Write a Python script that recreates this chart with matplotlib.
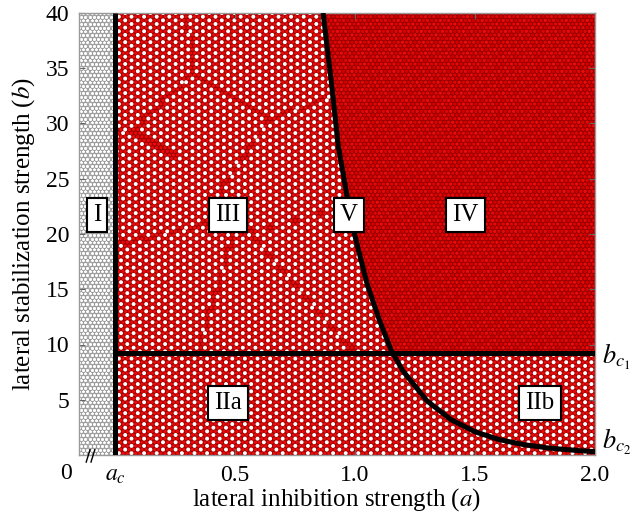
import numpy as np
import matplotlib
matplotlib.use("Agg")
import matplotlib.pyplot as plt
import matplotlib.transforms as mtransforms

# ---- data ----
a_c = 0.0            # critical inhibition (vertical line)
b_c1 = 9.2           # horizontal boundary
curve_a = [0.867, 0.90, 0.93, 0.97, 1.00, 1.05, 1.10, 1.15, 1.20, 1.30, 1.40, 1.50, 1.60, 1.70, 1.80, 1.90, 2.00]
curve_b = [40.0, 34.0, 28.0, 23.0, 19.8, 15.5, 12.3, 9.5, 7.6, 4.9, 3.2, 2.1, 1.4, 0.95, 0.65, 0.45, 0.30]
x_ticks = [0.0, 0.5, 1.0, 1.5, 2.0]
x_ticklabels = ['$a_c$', '0.5', '1.0', '1.5', '2.0']
y_ticks = [5, 10, 15, 20, 25, 30, 35, 40]
region_labels = ['I', 'III', 'V', 'IV', 'IIa', 'IIb']
region_a = [-0.075, 0.471, 0.975, 1.46, 0.471, 1.77]
region_b = [21.7, 21.7, 21.7, 21.7, 4.7, 4.7]
# domain seeds for phase defects of the pattern in region III
seed_a = [0.10, 0.35, 0.55, 0.75, 0.25, 0.60, 0.85, 0.15]
seed_b = [35.0, 30.0, 36.0, 25.0, 16.0, 14.0, 18.0, 24.0]
seed_phase = [0, 1, 2, 0, 2, 1, 0, 1]

xlim = (-0.15, 2.0)
ylim = (0, 40)

plt.rcParams['font.family'] = ['Liberation Serif', 'DejaVu Serif']
plt.rcParams['mathtext.fontset'] = 'stix'

fig = plt.figure(figsize=(6.32, 5.14), dpi=100)
ax = fig.add_axes([79/632, 59/514, 516/632, 442/514])
ax.set_xlim(*xlim)
ax.set_ylim(*ylim)

# ---- hexagonal cell lattice (texture) ----
axw_px, axh_px = 516.0, 442.0
d_px = 4.2
dx = d_px * (xlim[1] - xlim[0]) / axw_px
dy = d_px * 0.866 * (ylim[1] - ylim[0]) / axh_px
nrows = int((ylim[1] - ylim[0]) / dy) + 2
ncols = int((xlim[1] - xlim[0]) / dx) + 2
rr, ii = np.meshgrid(np.arange(nrows), np.arange(ncols), indexing='ij')
X = xlim[0] + dx * 0.5 + (ii + 0.5 * (rr % 2)) * dx
Y = ylim[0] + dy * 0.5 + rr * dy
q = ii - rr // 2
sub = (q - rr) % 3
X = X.ravel(); Y = Y.ravel(); sub = sub.ravel(); q = q.ravel(); R = rr.ravel()

cb = np.interp(X, curve_a, curve_b, left=1e9, right=0)
left_of_curve = Y < cb
regI = X < a_c
regII = (~regI) & (Y < b_c1)
regIII = (~regI) & (Y >= b_c1) & left_of_curve
regIV = (~regI) & (Y >= b_c1) & (~left_of_curve)

# phase by nearest seed in region III; cells on domain walls stay red
sa = np.array(seed_a); sbb = np.array(seed_b)
dist = np.sqrt(((X[:, None] - sa[None, :]) / 0.5) ** 2 + ((Y[:, None] - sbb[None, :]) / 10.0) ** 2)
order = np.sort(dist, axis=1)
wall = (order[:, 1] - order[:, 0]) < 0.014
phase = np.array(seed_phase)[np.argmin(dist, axis=1)]

white = np.zeros(X.shape, bool)
white[regI] = True
white[regII] = (sub[regII] == 0)
white[regIII] = (sub[regIII] == phase[regIII]) & (~wall[regIII])

s = (d_px * 0.72) ** 2
# region I (grey outlined white cells)
ax.scatter(X[regI], Y[regI], s=s * 0.95, facecolor='white', edgecolor='#8c8c8c', linewidths=0.55, zorder=1)
# red cells
red = (~regI) & (~white)
shade = np.where(regIV, ((q * 7 + R * 3) % 5) / 5.0, 0.7)
cols = np.zeros((red.sum(), 4))
cols[:, 0] = 0.82 + 0.13 * shade[red]
cols[:, 1] = 0.0 + 0.05 * shade[red]
cols[:, 2] = 0.0 + 0.05 * shade[red]
cols[:, 3] = 1
ax.add_patch(plt.Rectangle((a_c, 0), xlim[1] - a_c, 40, facecolor='#a00000', edgecolor='none', zorder=0))
ax.scatter(X[red], Y[red], s=s, facecolor=cols, edgecolor='#8c0000', linewidths=0.45, zorder=1)
wr = (~regI) & white
ax.scatter(X[wr], Y[wr], s=s * 0.9, facecolor='white', edgecolor='none', zorder=1)

# ---- boundaries ----
ax.plot([a_c, a_c], [0, 40], color='black', lw=3.6, zorder=3, solid_capstyle='butt')
ax.plot([a_c, xlim[1]], [b_c1, b_c1], color='black', lw=3.6, zorder=3, solid_capstyle='butt')
ax.plot(curve_a, curve_b, color='black', lw=3.6, zorder=3, solid_capstyle='butt')

for lab, xa, yb in zip(region_labels, region_a, region_b):
    ax.text(xa, yb, lab, fontsize=18, ha='center', va='center', zorder=5,
            bbox=dict(boxstyle='square,pad=0.25', facecolor='white', edgecolor='black', linewidth=1.5))

# ---- axes styling ----
for sp in ax.spines.values():
    sp.set_color('#999999')
    sp.set_linewidth(1.0)
ax.set_xticks(x_ticks)
ax.set_xticklabels(x_ticklabels)
ax.set_yticks(y_ticks)
ax.tick_params(direction='in', length=4, width=0.8, color='#666666', labelsize=17,
               top=True, right=True, pad=7)
ax.set_xlabel('lateral inhibition strength ($a$)', fontsize=18, labelpad=0)
ax.set_ylabel('lateral stabilization strength ($b$)', fontsize=18, labelpad=6)

trans = mtransforms.blended_transform_factory(ax.transData, ax.transAxes)
ax.text(-0.204, -0.018, '0', transform=trans, fontsize=17, ha='center', va='top')
# axis break marks
for off in (-0.112, -0.092):
    ax.plot([off - 0.008, off + 0.008], [-0.016, 0.012], transform=trans, color='black',
            lw=1.0, clip_on=False, zorder=6)

ax.text(2.03, b_c1 - 0.3, '$b_{c_1}$', fontsize=19, ha='left', va='center')
ax.text(2.03, 1.2, '$b_{c_2}$', fontsize=19, ha='left', va='center')

fig.savefig('out.png', dpi=100)
